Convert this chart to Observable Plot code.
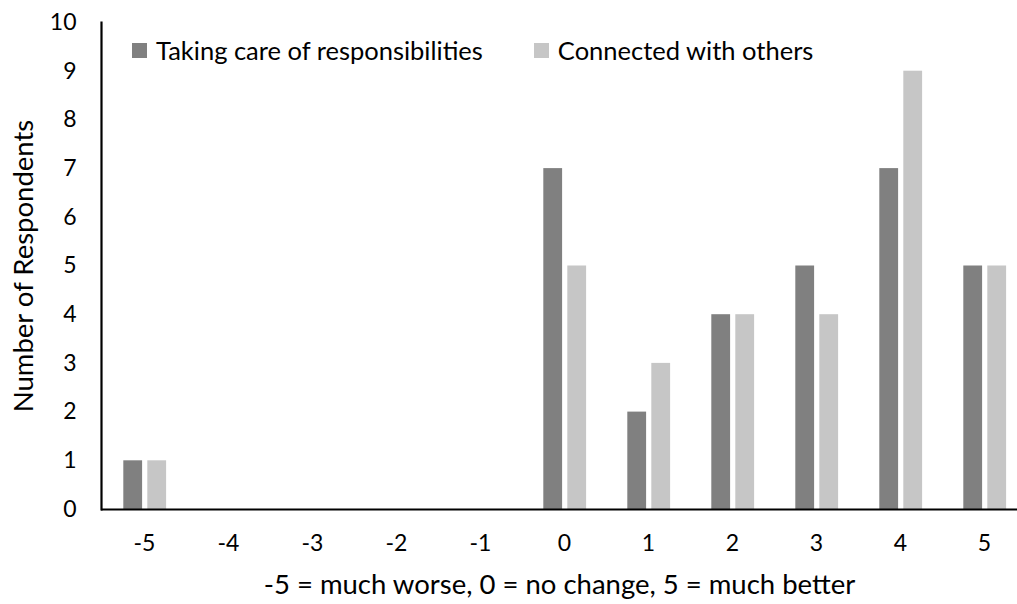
<!DOCTYPE html>
<html>
<head>
<meta charset="utf-8">
<script src="https://cdn.jsdelivr.net/npm/d3@7"></script>
<script src="https://cdn.jsdelivr.net/npm/@observablehq/plot@0.6"></script>
<style>
  html, body { margin: 0; padding: 0; background: #fff; }
  #wrap { position: relative; width: 1017px; height: 604px; overflow: hidden; font-family: Lato, "Open Sans", sans-serif; }
  #legend { position: absolute; top: 34px; left: 132px; display: flex; align-items: center; font-size: 25.5px; line-height: 32px; color: #000; white-space: nowrap; }
  .item { display: flex; align-items: center; }
  .sw { width: 15px; height: 15px; margin-right: 9px; display: inline-block; }
</style>
</head>
<body>
<div id="wrap"></div>
<script>
const categories = ["-5", "-4", "-3", "-2", "-1", "0", "1", "2", "3", "4", "5"];
const takingCare = [1, 0, 0, 0, 0, 7, 2, 4, 5, 7, 5];
const connected = [1, 0, 0, 0, 0, 5, 3, 4, 4, 9, 5];
const seriesNames = ["Taking care of responsibilities", "Connected with others"];
const seriesColors = ["#808080", "#c6c6c6"];
const yTicks = [0, 1, 2, 3, 4, 5, 6, 7, 8, 9, 10];
const xTitle = "-5 = much worse, 0 = no change, 5 = much better";
const yTitle = "Number of Respondents";

const dataA = categories.map((c, i) => ({cat: c, value: takingCare[i]}));
const dataB = categories.map((c, i) => ({cat: c, value: connected[i]}));

const chart = Plot.plot({
  width: 1017,
  height: 604,
  marginLeft: 101,
  marginRight: 0,
  marginTop: 22,
  marginBottom: 95,
  style: {fontFamily: "Lato, 'Open Sans', sans-serif", fontSize: "23px", color: "#000", background: "#fff"},
  x: {domain: categories, range: [101, 1027], padding: 0},
  y: {domain: [0, 10], ticks: yTicks},
  marks: [
    Plot.barY(dataA, {x: "cat", y: "value", fill: seriesColors[0], insetLeft: 21.3, insetRight: 43.9}),
    Plot.barY(dataB, {x: "cat", y: "value", fill: seriesColors[1], insetLeft: 45.3, insetRight: 19.9}),
    Plot.axisY({ticks: yTicks, tickSize: 0, tickPadding: 25, fontSize: 23, label: yTitle, labelAnchor: "center", labelArrow: "none", labelOffset: 88}),
    Plot.axisX({tickSize: 0, tickPadding: 25, fontSize: 23, label: xTitle, labelAnchor: "center", labelArrow: "none", labelOffset: 84}),
    Plot.ruleY([0], {stroke: "#000", strokeWidth: 2.2}),
    Plot.frame({anchor: "left", stroke: "#000", strokeWidth: 2.2})
  ]
});
chart.querySelectorAll("g[aria-label='x-axis label'] text, g[aria-label='x-axis label']").forEach(n => n.setAttribute("font-size", 27.5));
chart.querySelectorAll("g[aria-label='y-axis label'] text, g[aria-label='y-axis label']").forEach(n => n.setAttribute("font-size", 27.5));

const wrap = document.getElementById("wrap");
wrap.appendChild(chart);

const legend = document.createElement("div");
legend.id = "legend";
seriesNames.forEach((name, i) => {
  const item = document.createElement("span");
  item.className = "item";
  if (i > 0) item.style.marginLeft = "51px";
  const sw = document.createElement("span");
  sw.className = "sw";
  sw.style.background = seriesColors[i];
  const label = document.createElement("span");
  label.textContent = name;
  item.appendChild(sw);
  item.appendChild(label);
  legend.appendChild(item);
});
wrap.appendChild(legend);
</script>
</body>
</html>
